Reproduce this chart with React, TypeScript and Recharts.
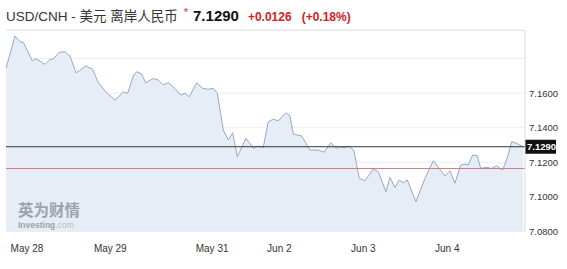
import React from 'react';
import { ComposedChart, Area, XAxis, YAxis, CartesianGrid, ReferenceLine } from 'recharts';

// time in hours along the (compressed) trading timeline
const times = [0, 2.57, 4.0, 4.94, 7.51, 8.57, 11.14, 12.57, 13.5, 15.2, 16.86, 18.29, 20.0, 20.94, 22.86, 24.77, 26.37, 28.29, 31.14, 33.51, 34.77, 36.37, 37.34, 38.77, 39.91, 42.09, 43.51, 44.94, 46.37, 47.8, 49.91, 51.14, 52.37, 54.49, 56.2, 57.8, 59.23, 60.37, 62.09, 63.51, 64.77, 66.09, 68.57, 70.66, 72.09, 73.51, 74.94, 76.37, 77.8, 80.0, 81.14, 82.09, 84.49, 86.86, 89.23, 90.86, 92.86, 94.29, 95.63, 96.66, 98.09, 99.43, 100.94, 102.57, 104.94, 106.37, 108.57, 109.71, 111.14, 112.37, 113.51, 114.66, 117.14, 119.71, 122.09, 125.43, 126.86, 128.29, 129.91, 131.14, 132.09, 133.34, 134.66, 135.63, 137.34, 138.77, 140.2, 141.91, 143.34, 144.49, 145.91, 147.8];
const rates = [7.1743, 7.1930, 7.1897, 7.1894, 7.1787, 7.1799, 7.1766, 7.1795, 7.1797, 7.1836, 7.1839, 7.1814, 7.1718, 7.1729, 7.1757, 7.1738, 7.1662, 7.1612, 7.1560, 7.1606, 7.1599, 7.1699, 7.1724, 7.1710, 7.1660, 7.1685, 7.1676, 7.1647, 7.1660, 7.1637, 7.1589, 7.1599, 7.1579, 7.1660, 7.1628, 7.1622, 7.1628, 7.1599, 7.1387, 7.1329, 7.1371, 7.1232, 7.1339, 7.1281, 7.1294, 7.1286, 7.1435, 7.1449, 7.1440, 7.1487, 7.1468, 7.1364, 7.1352, 7.1271, 7.1271, 7.1258, 7.1313, 7.1281, 7.1290, 7.1284, 7.1294, 7.1267, 7.1107, 7.1094, 7.1160, 7.1146, 7.1030, 7.1113, 7.1055, 7.1098, 7.1082, 7.1098, 7.0972, 7.1107, 7.1209, 7.1121, 7.1151, 7.1079, 7.1184, 7.1190, 7.1184, 7.1242, 7.1238, 7.1165, 7.1171, 7.1165, 7.1179, 7.1155, 7.1232, 7.1319, 7.1310, 7.1290];

const xTickValues = [6, 29.8, 58.9, 78.1, 102.1, 126.1];
const xTickLabels = ['May 28', 'May 29', 'May 31', 'Jun 2', 'Jun 3', 'Jun 4'];
const yTicks = [7.08, 7.10, 7.12, 7.14, 7.16, 7.18];
const yHiddenTicks = [7.18];

const lastPrice = 7.1290;
const prevClose = 7.1164;
const change = '+0.0126';
const changePct = '(+0.18%)';
const titleText = 'USD/CNH - 美元 离岸人民币';

const data = times.map((t, i) => ({ t, rate: rates[i] }));

const FONT = '"Liberation Sans", Arial, "Noto Sans CJK SC", sans-serif';

const XTick = (props: any) => {
  const { x, y, payload } = props;
  const idx = xTickValues.indexOf(payload.value);
  return (
    <text x={x} y={y + 20.5} textAnchor="middle" fontSize={10} fontFamily={FONT} fill="#333">
      {idx >= 0 ? xTickLabels[idx] : ''}
    </text>
  );
};

const YTick = (props: any) => {
  const { x, y, payload } = props;
  if (yHiddenTicks.includes(payload.value)) return <g />;
  return (
    <text x={x} y={y + 3.5} textAnchor="start" fontSize={9.5} fontFamily={FONT} fill="#333">
      {Number(payload.value).toFixed(4)}
    </text>
  );
};

const PriceTag = (props: any) => {
  const vb = props.viewBox || {};
  const x = (vb.x || 0) + (vb.width || 0);
  const y = vb.y || 0;
  return (
    <g>
      <rect x={x} y={y - 7} width={31} height={14} fill="#111" />
      <text x={x + 2} y={y + 3.7} fontSize={9.5} fontWeight="bold" fontFamily={FONT} fill="#fff">
        {lastPrice.toFixed(4)}
      </text>
    </g>
  );
};

export default function App() {
  return (
    <div style={{ position: 'absolute', left: 0, top: 0, width: 567, height: 269, background: '#fff', fontFamily: FONT }}>
      <div style={{ position: 'absolute', left: 6, top: 5, whiteSpace: 'nowrap', display: 'flex', alignItems: 'baseline' }}>
        <span style={{ fontSize: 13.5, color: '#333' }}>{titleText}</span>
        <span style={{ fontSize: 11, color: '#e03020', marginLeft: 6, position: 'relative', top: -5 }}>*</span>
        <span style={{ fontSize: 15, fontWeight: 'bold', color: '#111', marginLeft: 5 }}>{lastPrice.toFixed(4)}</span>
        <span style={{ fontSize: 12, fontWeight: 'bold', color: '#d0231b', marginLeft: 9 }}>{change}</span>
        <span style={{ fontSize: 12, fontWeight: 'bold', color: '#d0231b', marginLeft: 10 }}>{changePct}</span>
      </div>
      <div style={{ position: 'absolute', left: 6, top: 30, width: 519, height: 0, borderTop: '1px solid #dcdcdc' }} />
      <div style={{ position: 'absolute', left: 0, top: 0 }}>
        <ComposedChart width={567} height={269} data={data} margin={{ top: 30, right: 0, bottom: 0, left: 6 }}>
          <CartesianGrid vertical={false} stroke="#eceef2" />
          <XAxis
            dataKey="t"
            type="number"
            domain={[0, 148.3]}
            ticks={xTickValues}
            height={37.5}
            axisLine={false}
            tickLine={false}
            tickSize={0}
            tickMargin={0}
            tick={<XTick />}
            allowDataOverflow
          />
          <YAxis
            orientation="right"
            type="number"
            domain={[7.08, 7.1965]}
            ticks={yTicks}
            width={42}
            axisLine={{ stroke: '#dcdcdc' }}
            tickLine={false}
            tickSize={0}
            tickMargin={4}
            tick={<YTick />}
            allowDataOverflow
          />
          <Area
            type="linear"
            dataKey="rate"
            stroke="#95a8c3"
            strokeWidth={1}
            fill="#e7edf6"
            fillOpacity={1}
            baseValue="dataMin"
            isAnimationActive={false}
            dot={false}
            activeDot={false}
          />
          <ReferenceLine y={prevClose} stroke="#d07a82" strokeWidth={1} />
          <ReferenceLine y={lastPrice} stroke="#333" strokeWidth={1} label={<PriceTag />} />
        </ComposedChart>
      </div>
      <div style={{ position: 'absolute', left: 18, top: 201, height: 16, lineHeight: '16px', fontSize: 15.5, fontWeight: 'bold', color: '#9da3ab', fontFamily: '"Noto Sans CJK SC", sans-serif', whiteSpace: 'nowrap', pointerEvents: 'none' }}>
        英为财情
      </div>
      <div style={{ position: 'absolute', left: 18, top: 221, height: 9, lineHeight: '9px', fontSize: 8.5, color: '#9da3ab', whiteSpace: 'nowrap', pointerEvents: 'none' }}>
        <span style={{ fontWeight: 'bold' }}>Investing</span>
        <span style={{ color: '#b8bcc2' }}>.com</span>
      </div>
    </div>
  );
}
